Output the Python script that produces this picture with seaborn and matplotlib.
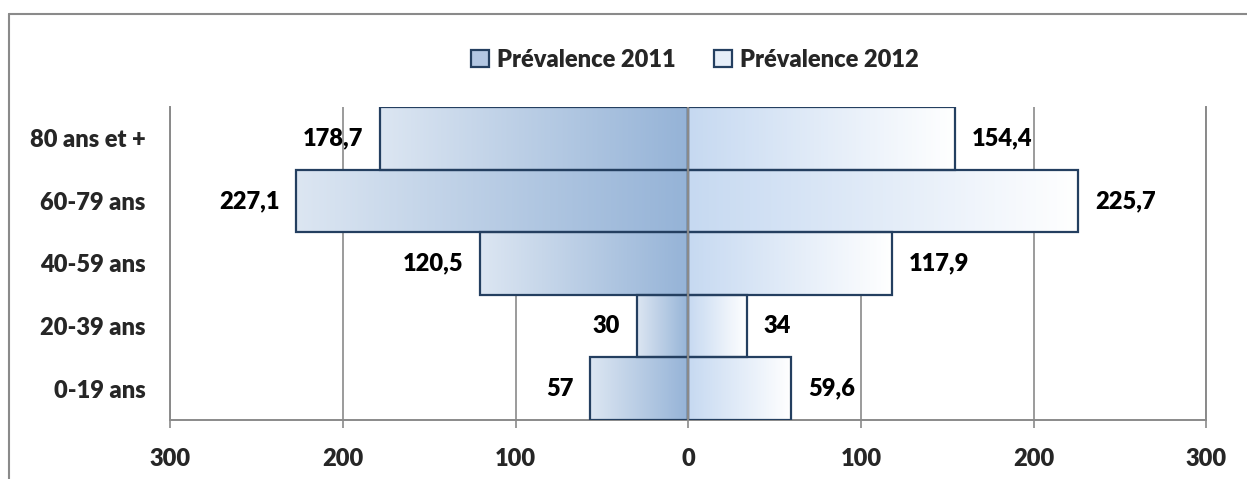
import numpy as np
import pandas as pd
import matplotlib
matplotlib.use("Agg")
import matplotlib.pyplot as plt
import seaborn as sns
from matplotlib.colors import LinearSegmentedColormap
from matplotlib.lines import Line2D
from matplotlib.patches import Patch

# Age groups (top to bottom) and prevalence per year
age_groups = ["80 ans et +", "60-79 ans", "40-59 ans", "20-39 ans", "0-19 ans"]
prev_2011 = [178.7, 227.1, 120.5, 30, 57]
prev_2012 = [154.4, 225.7, 117.9, 34, 59.6]
x_ticks = [-300, -200, -100, 0, 100, 200, 300]
series_names = ["Prévalence 2011", "Prévalence 2012"]

sns.set_style("white")
plt.rcParams["font.family"] = ["Lato", "DejaVu Sans"]

FONT = {"family": "Lato", "weight": 800, "size": 17}
EDGE = "#243f60"
GRID = "#8a8a8a"
cmap_left = LinearSegmentedColormap.from_list("left", ["#dce6f2", "#95b3d7"])
cmap_right = LinearSegmentedColormap.from_list("right", ["#c6d9f1", "#ffffff"])

df = pd.DataFrame({
    "age": age_groups * 2,
    "value": [-v for v in prev_2011] + list(prev_2012),
    "serie": [series_names[0]] * 5 + [series_names[1]] * 5,
})

fig = plt.figure(figsize=(12.47, 4.79), dpi=100)
ax = fig.add_axes([0.1367, 0.1232, 0.8308, 0.6534])

sns.barplot(data=df[df.serie == series_names[0]], x="value", y="age",
            order=age_groups, orient="h", width=1.0, ax=ax,
            color="#95b3d7", edgecolor=EDGE, linewidth=1.6, zorder=3)
sns.barplot(data=df[df.serie == series_names[1]], x="value", y="age",
            order=age_groups, orient="h", width=1.0, ax=ax,
            color="#c6d9f1", edgecolor=EDGE, linewidth=1.6, zorder=3)

ax.set_xlim(-300, 300)
ylim = ax.get_ylim()

# horizontal gradient fill inside every bar
grad = np.linspace(0, 1, 256).reshape(1, -1)
for i, patch in enumerate(ax.patches):
    x0, y0 = patch.get_x(), patch.get_y()
    w, h = patch.get_width(), patch.get_height()
    cmap = cmap_left if i < len(age_groups) else cmap_right
    xa, xb = min(x0, x0 + w), max(x0, x0 + w)
    im = ax.imshow(grad, cmap=cmap, aspect="auto", interpolation="bicubic",
                   extent=(xa, xb, y0 + h, y0), zorder=2.5)
    im.set_clip_path(patch)
    patch.set_facecolor("none")

ax.set_xlim(-300, 300)
ax.set_ylim(ylim)

# value labels at bar ends
for cont, vals in zip(ax.containers, [prev_2011, prev_2012]):
    labels = [f"{v:g}".replace(".", ",") for v in vals]
    ax.bar_label(cont, labels=labels, padding=12, color="black", **FONT)

ax.axvline(0, color=GRID, lw=1.6, zorder=4)

ax.set_xticks(x_ticks)
ax.set_xticklabels([str(abs(t)) for t in x_ticks])
ax.grid(axis="x", color=GRID, lw=1.2, zorder=0)
ax.grid(axis="y", visible=False)
ax.set_axisbelow(True)
ax.set_xlabel("")
ax.set_ylabel("")

ax.spines["top"].set_visible(False)
for side in ["left", "right", "bottom"]:
    ax.spines[side].set_color(GRID)
    ax.spines[side].set_linewidth(1.4)

ax.tick_params(axis="x", direction="out", length=6, width=1.2, color=GRID,
               pad=14, bottom=True)
ax.tick_params(axis="y", length=0, pad=18)
for lbl in ax.get_xticklabels() + ax.get_yticklabels():
    lbl.set_fontproperties(FONT)

handles = [Patch(facecolor="#b3c7e3", edgecolor=EDGE, linewidth=1.6),
           Patch(facecolor="#e6eef8", edgecolor=EDGE, linewidth=1.6)]
leg = fig.legend(handles, series_names, loc="center",
                 bbox_to_anchor=(695 / 1247, 1 - 60 / 479), ncol=2,
                 frameon=False, handlelength=0.75, handleheight=0.75,
                 handletextpad=0.35, columnspacing=1.6, prop=FONT)

# chart border
fig.add_artist(Line2D([9 / 1247, 1], [1 - 14 / 479, 1 - 14 / 479],
                      transform=fig.transFigure, color=GRID, lw=1.5))
fig.add_artist(Line2D([9 / 1247, 9 / 1247], [0, 1 - 14 / 479],
                      transform=fig.transFigure, color=GRID, lw=1.5))

fig.savefig("out.png", dpi=100)
